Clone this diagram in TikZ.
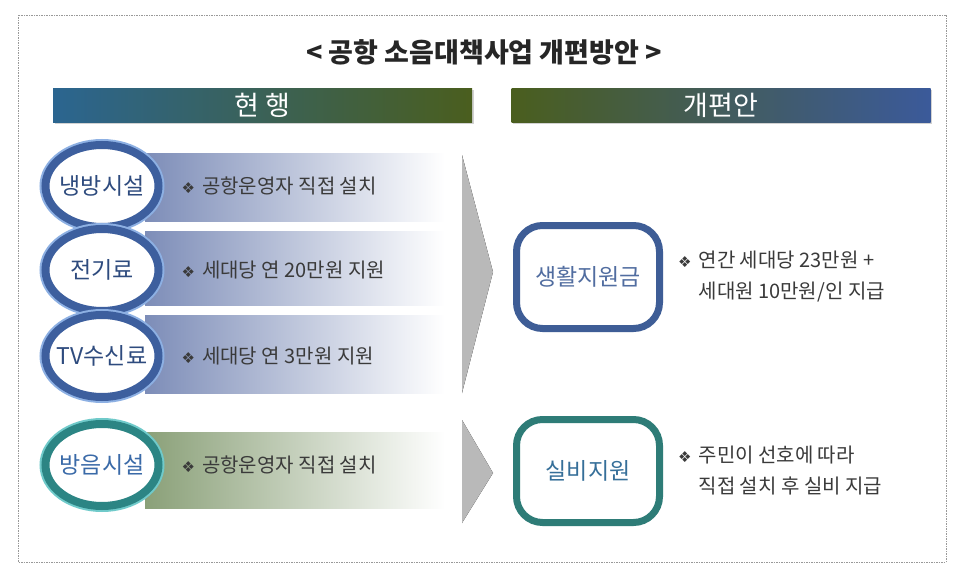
\documentclass[tikz,border=0pt]{standalone}
\usepackage{fontspec}
\setmainfont{Noto Sans CJK KR}
\newfontfamily\dingfont{DejaVu Sans}
\usetikzlibrary{positioning,shapes.geometric,shadows}
\definecolor{hdrblue}{HTML}{2B6590}
\definecolor{hdrgreen}{HTML}{4A5E1E}
\definecolor{hdrnavy}{HTML}{3B5A9A}
\definecolor{ringblue}{HTML}{3D5F9E}
\definecolor{glowblue}{HTML}{8DB0E3}
\definecolor{bandblue}{HTML}{7D8DB8}
\definecolor{ringteal}{HTML}{2C8584}
\definecolor{glowteal}{HTML}{70CACA}
\definecolor{bandgreen}{HTML}{8AA078}
\definecolor{boxblue}{HTML}{3E5D96}
\definecolor{boxteal}{HTML}{2E7C77}
\definecolor{labblue}{HTML}{2E4B7E}
\definecolor{labsky}{HTML}{3A6AA8}
\definecolor{txtgray}{HTML}{3A3A3A}
\newcommand\bulmark{{\dingfont\fontsize{15}{15}\selectfont ❖}\hspace{7pt}}

\begin{document}
\begin{tikzpicture}[x=1pt,y=-1pt,
    hdr/.style={minimum width=419pt,minimum height=34pt,inner sep=0pt,text=white,font=\fontsize{27}{30}\selectfont,drop shadow={shadow xshift=1.5pt,shadow yshift=-2pt,opacity=.35}},
    band/.style={minimum width=300pt,inner sep=0pt,right color=white},
    ring/.style 2 args={ellipse,draw=#1,fill=white,line width=8pt,preaction={draw=#2,line width=12pt},minimum width=113pt,minimum height=82pt,font=\fontsize{23}{26}\selectfont},
    pill/.style={rectangle,rounded corners=26pt,fill=white,line width=7pt,minimum width=143pt,minimum height=103pt,font=\fontsize{23}{26}\selectfont},
    bul/.style={inner sep=0pt,text=txtgray,align=left,font=\fontsize{20}{31}\selectfont}]
    \useasboundingbox[fill=white] (0,0) rectangle (964,578);
    \draw[gray!80,line width=.7pt,dash pattern=on 1.5pt off 1pt] (18,15) rectangle (946,562);
    \node[font=\bfseries\fontsize{27}{30}\selectfont,text=black!85] (title) at (484,52) {< 공항 소음대책사업 개편방안 >};
    \node[hdr,left color=hdrblue,right color=hdrgreen] (cur) at (262.5,105) {현 행};
    \node[hdr,left color=hdrgreen,right color=hdrnavy] (new) at (721,105) {개편안};

    \node[band,left color=bandblue,minimum height=68pt] (b1) at (295,187) {};
    \node[band,left color=bandblue,minimum height=74pt] (b2) at (295,268) {};
    \node[band,left color=bandblue,minimum height=78pt] (b3) at (295,354) {};
    \node[band,left color=bandgreen,minimum height=76pt] (b4) at (295,470) {};

    \node[ring={ringblue}{glowblue},text=labblue] (r1) at (102,186) {\makebox[0pt]{냉방시설}};
    \node[ring={ringblue}{glowblue},text=labblue] (r2) at (102,270) {\makebox[0pt]{전기료}};
    \node[ring={ringblue}{glowblue},text=labblue] (r3) at (102,356) {\makebox[0pt]{TV수신료}};
    \node[ring={ringteal}{glowteal},text=labsky] (r4) at (102,465) {\makebox[0pt]{방음시설}};

    \node[bul,right=19pt of r1] (t1) {\bulmark 공항운영자 직접 설치};
    \node[bul,right=19pt of r2] (t2) {\bulmark 세대당 연 20만원 지원};
    \node[bul,right=19pt of r3] (t3) {\bulmark 세대당 연 3만원 지원};
    \node[bul,right=19pt of r4] (t4) {\bulmark 공항운영자 직접 설치};

    \fill[left color=gray!55,middle color=gray!80,right color=gray!55] (462,155) -- (493,272) -- (462,393) -- cycle;
    \fill[left color=gray!55,middle color=gray!80,right color=gray!55] (462,420) -- (493,473) -- (462,523) -- cycle;

    \node[pill,draw=boxblue,text=boxblue!90] (p1) at (588,277) {생활지원금};
    \node[pill,draw=boxteal,text=labsky!70!boxteal] (p2) at (588,471) {실비지원};

    \node[bul,right=15pt of p1] (s1) {\bulmark 연간 세대당 23만원 +\\\phantom{\bulmark}세대원 10만원/인 지급};
    \node[bul,right=15pt of p2] (s2) {\bulmark 주민이 선호에 따라\\\phantom{\bulmark}직접 설치 후 실비 지급};
  \end{tikzpicture}
\end{document}
